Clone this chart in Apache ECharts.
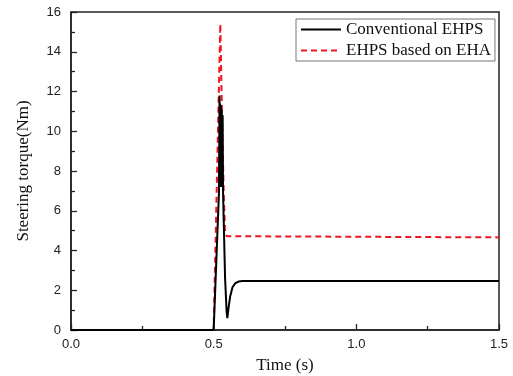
<!DOCTYPE html>
<html><head><meta charset="utf-8">
<script src="https://cdn.jsdelivr.net/npm/echarts@6/dist/echarts.min.js"></script>
<style>html,body{margin:0;padding:0;background:#fff}#c{width:513px;height:376px}</style>
</head><body><div id="c"></div>
<script>
var xTicks = [0.0, 0.5, 1.0, 1.5];
var yTicks = [0, 2, 4, 6, 8, 10, 12, 14, 16];
var seriesNames = ['Conventional EHPS', 'EHPS based on EHA'];
var conventionalT = [0, 0.5, 0.5185, 0.5205, 0.5215, 0.5228, 0.524, 0.5255, 0.527, 0.5285, 0.530, 0.5315, 0.5328, 0.540, 0.5455, 0.548, 0.552, 0.558, 0.566, 0.576, 0.588, 0.600, 1.5];
var conventionalV = [0, 0, 6.9, 11.8, 7.4, 11.4, 7.2, 11.3, 7.3, 11.1, 7.2, 10.8, 7.0, 2.6, 0.9, 0.6, 1.1, 1.7, 2.15, 2.36, 2.44, 2.46, 2.46];
var ehaT = [0, 0.5, 0.5233, 0.527, 0.531, 0.536, 0.540, 0.546, 0.552, 1.5];
var ehaV = [0, 0, 15.4, 12.5, 9.5, 6.5, 4.9, 4.72, 4.66, 4.66];

function pairs(t, v) { return t.map(function (x, i) { return [x, v[i]]; }); }

var chart = echarts.init(document.getElementById('c'), null, {renderer: 'canvas'});
var serif = 'Liberation Serif';
var sans = 'Liberation Sans';
chart.setOption({
  animation: false,
  backgroundColor: '#fff',
  grid: {left: 71, right: 14, top: 12, bottom: 46, containLabel: false, outerBoundsMode: 'none',
         show: true, borderColor: '#222', borderWidth: 1.5, backgroundColor: 'transparent'},
  legend: {
    orient: 'vertical', left: 296, top: 19, padding: [2, 4, 2, 4], itemGap: 4,
    itemWidth: 40, itemHeight: 17, borderColor: '#777', borderWidth: 1,
    itemStyle: {opacity: 0},
    textStyle: {fontFamily: serif, fontSize: 17, color: '#111'},
    data: seriesNames
  },
  xAxis: {
    type: 'value', min: xTicks[0], max: xTicks[xTicks.length - 1], interval: 0.5,
    name: 'Time (s)', nameLocation: 'middle', nameGap: 27,
    nameTextStyle: {fontFamily: serif, fontSize: 17, color: '#111'},
    axisLine: {show: true, onZero: false, lineStyle: {color: '#222', width: 1.5}},
    axisTick: {show: true, inside: true, length: 6, lineStyle: {color: '#222', width: 1.3}},
    minorTick: {show: true, splitNumber: 2, length: 4, lineStyle: {color: '#222', width: 1.3}},
    axisLabel: {fontFamily: sans, fontSize: 13, color: '#222', margin: 8, formatter: function (v) { return v.toFixed(1); }},
    splitLine: {show: false}
  },
  yAxis: {
    type: 'value', min: yTicks[0], max: yTicks[yTicks.length - 1], interval: 2,
    name: 'Steering torque(Nm)', nameLocation: 'middle', nameGap: 39,
    nameTextStyle: {fontFamily: serif, fontSize: 17, color: '#111'},
    axisLine: {show: true, onZero: false, lineStyle: {color: '#222', width: 1.5}},
    axisTick: {show: true, inside: true, length: 6, lineStyle: {color: '#222', width: 1.3}},
    minorTick: {show: true, splitNumber: 2, length: 4, lineStyle: {color: '#222', width: 1.3}},
    axisLabel: {fontFamily: sans, fontSize: 13, color: '#222', margin: 10},
    splitLine: {show: false}
  },
  series: [
    {name: seriesNames[0], type: 'line', data: pairs(conventionalT, conventionalV), showSymbol: false, symbol: 'none',
     lineStyle: {color: '#000', width: 2}, itemStyle: {color: '#000'}, z: 3},
    {name: seriesNames[1], type: 'line', data: pairs(ehaT, ehaV), showSymbol: false, symbol: 'none',
     lineStyle: {color: '#f0141e', width: 2, type: [6, 4]}, itemStyle: {color: '#f0141e'}, z: 2}
  ]
});
</script></body></html>
